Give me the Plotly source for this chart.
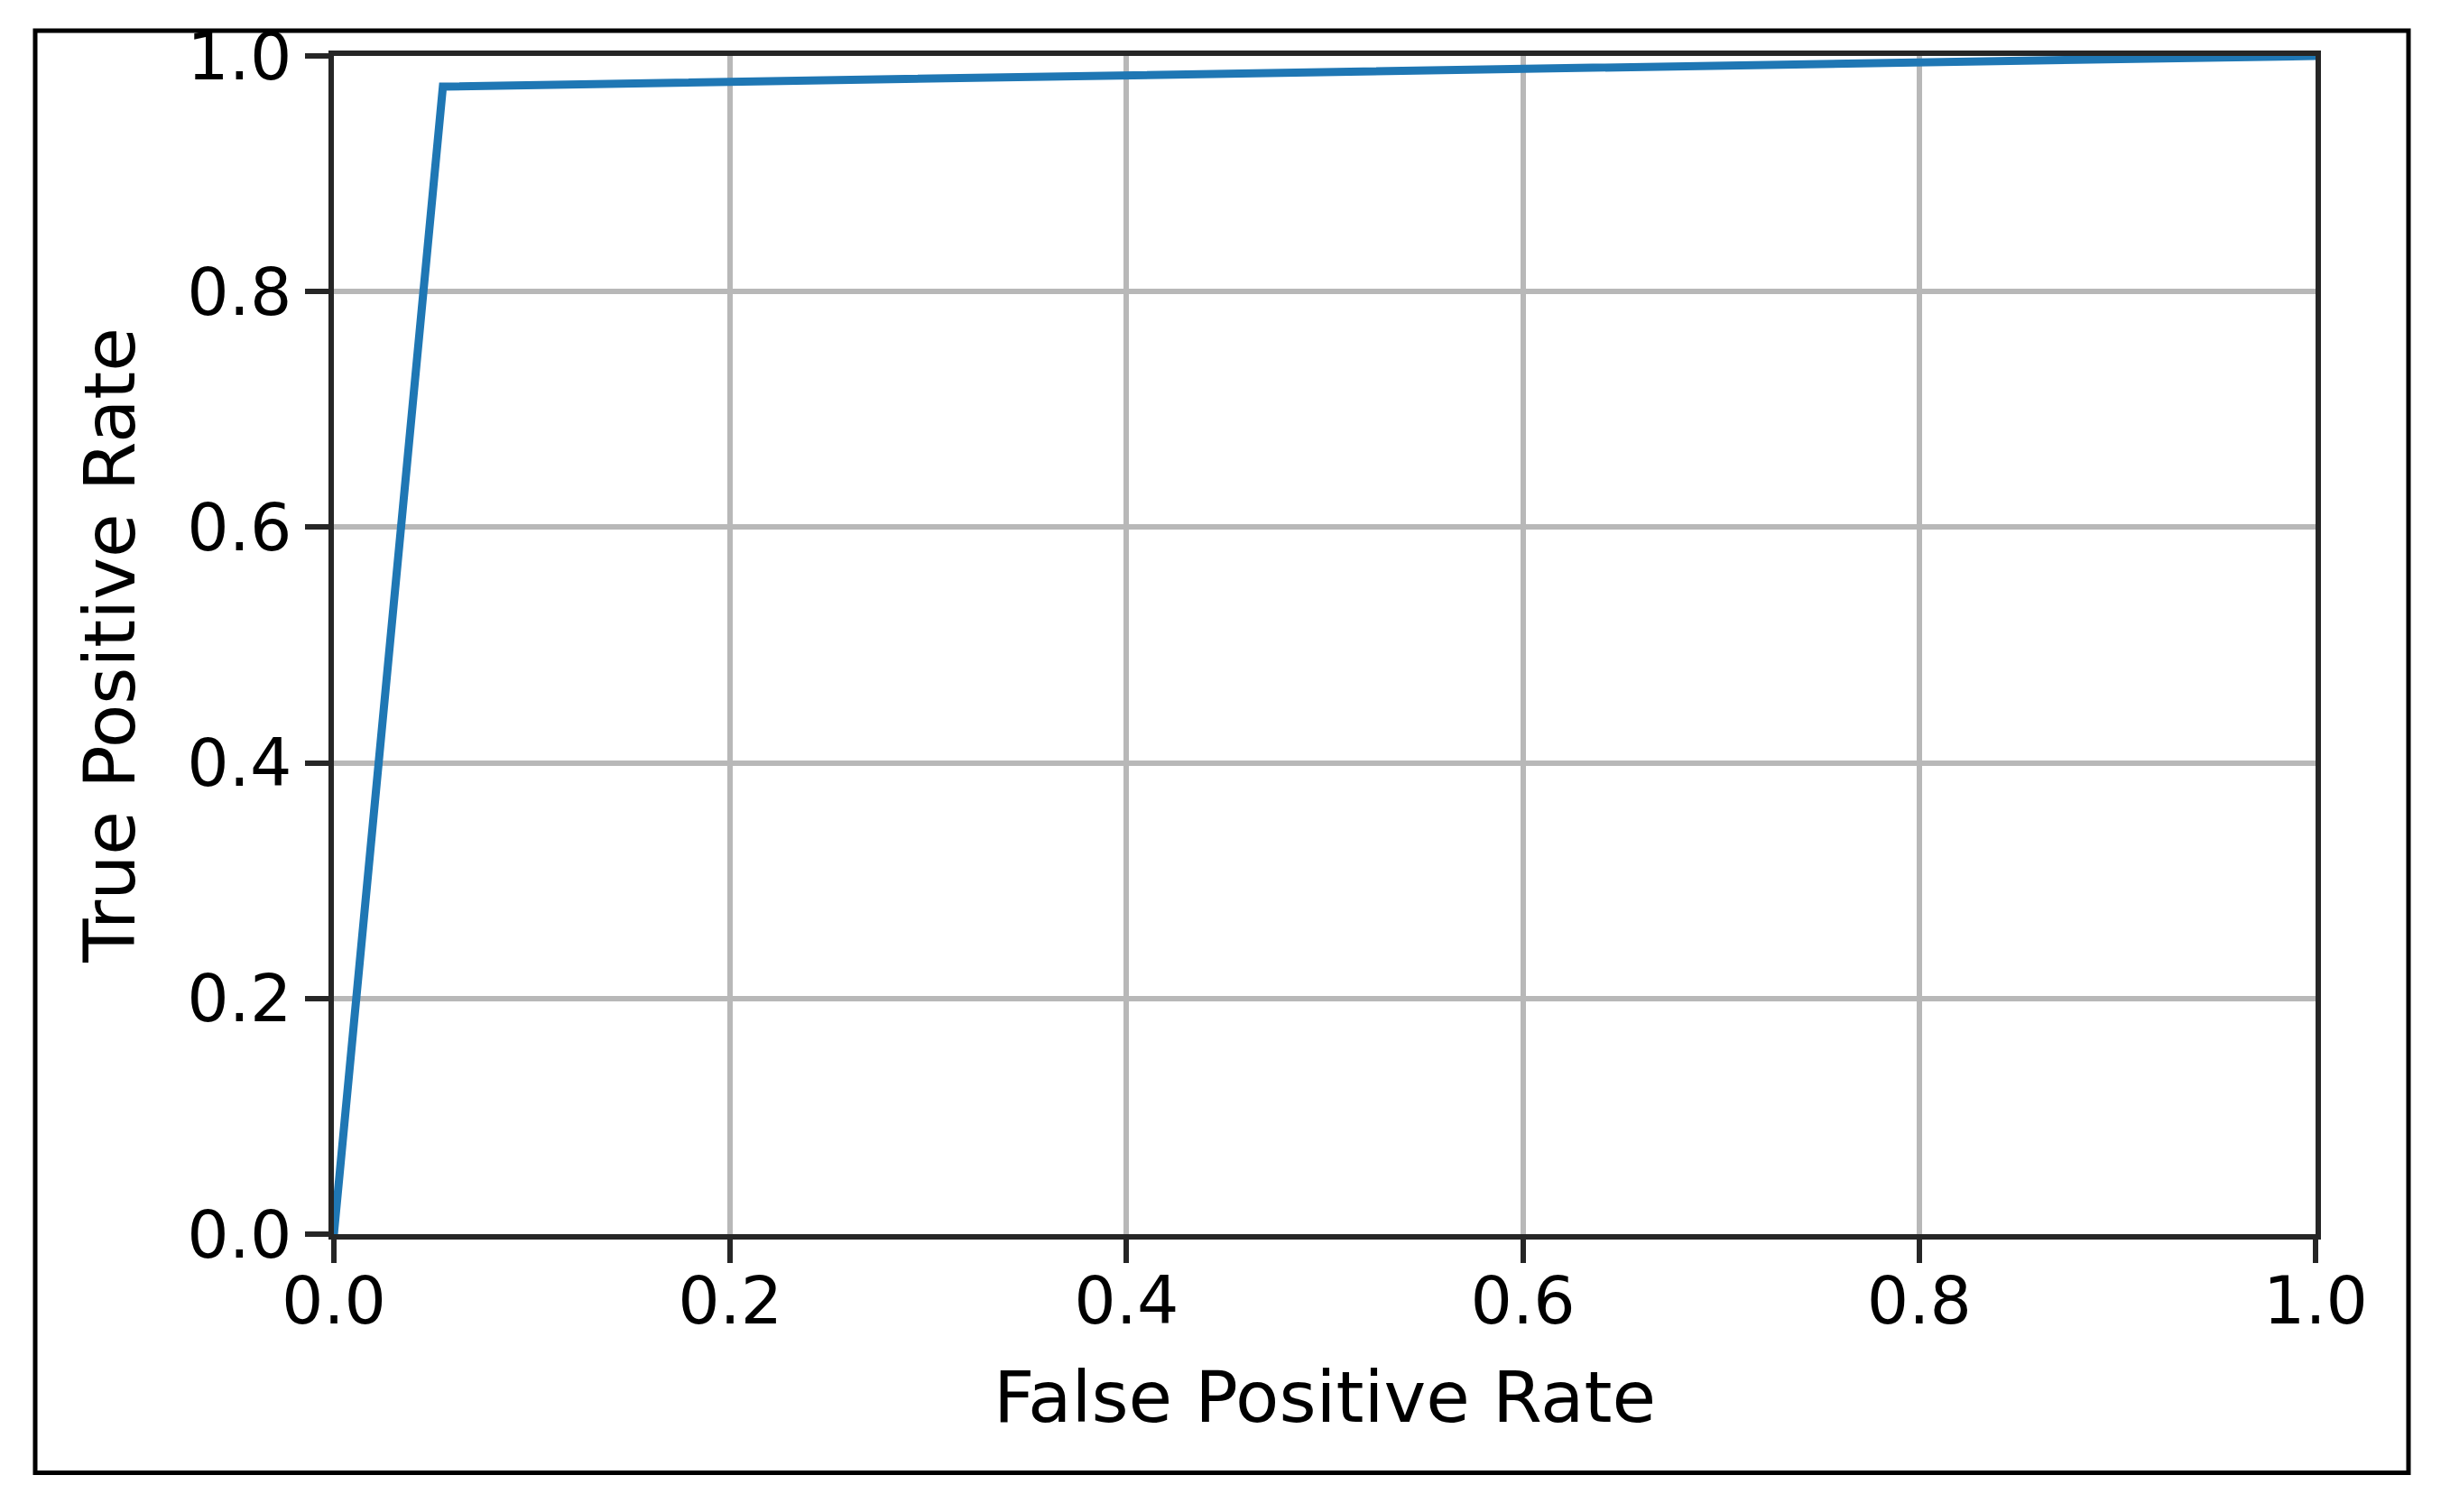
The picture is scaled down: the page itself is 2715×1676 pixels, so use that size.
import plotly.graph_objects as go

# ROC curve data
fpr = [0.0, 0.055, 1.0]
tpr = [0.0, 0.974, 1.0]

tick_vals = [0.0, 0.2, 0.4, 0.6, 0.8, 1.0]
tick_text = ["0.0", "0.2", "0.4", "0.6", "0.8", "1.0"]

# page is offset by the 8px default body margin
OFF = 8
W, H = 2715 - 2 * OFF, 1676 - 2 * OFF
L = 370 - OFF
T = 59 - OFF
R = W - (2566 - OFF)
B = H - (1368 - OFF)
pw, ph = W - L - R, H - T - B

FONT = "DejaVu Sans"
SPINE = "#262626"

fig = go.Figure()
fig.add_trace(go.Scatter(x=fpr, y=tpr, mode="lines",
                         line=dict(color="#1f77b4", width=9),
                         showlegend=False, hoverinfo="skip"))

axis_common = dict(
    range=[0, 1], tickmode="array", tickvals=tick_vals, ticktext=tick_text,
    showgrid=True, gridcolor="#b8b8b8", gridwidth=6,
    showline=True, linecolor=SPINE, linewidth=6, mirror=True,
    ticks="outside", ticklen=26, tickwidth=6, tickcolor=SPINE,
    tickfont=dict(family=FONT, size=73, color="#000000"),
    zeroline=False, fixedrange=True,
)

fig.update_xaxes(**axis_common,
                 title=dict(text="False Positive Rate",
                            font=dict(family=FONT, size=79, color="#000000"),
                            standoff=40),
                 ticklabelstandoff=-21)
fig.update_yaxes(**axis_common,
                 title=dict(text="True Positive Rate",
                            font=dict(family=FONT, size=79, color="#000000"),
                            standoff=34),
                 ticklabelstandoff=0)

# outer black frame around the figure (page pixel positions)
def px_x(p):
    return (p - OFF - L) / pw

def px_y(p):
    return (H - B - (p - OFF)) / ph

fig.add_shape(type="rect", xref="paper", yref="paper",
              x0=px_x(39), x1=px_x(2669), y0=px_y(1633), y1=px_y(31),
              line=dict(color="#000000", width=5), fillcolor="rgba(0,0,0,0)",
              layer="above")

fig.update_layout(
    width=W, height=H, autosize=False,
    margin=dict(l=L, r=R, t=T, b=B, pad=0),
    paper_bgcolor="white", plot_bgcolor="white",
    font=dict(family=FONT),
)

fig.write_html("out.html", config={"displayModeBar": False})
